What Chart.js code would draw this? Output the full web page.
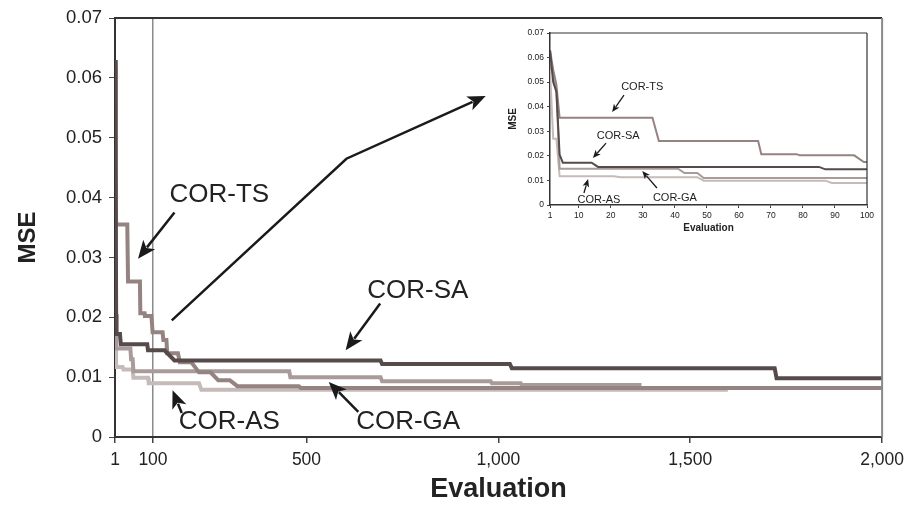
<!DOCTYPE html>
<html>
<head>
<meta charset="utf-8">
<title>MSE vs Evaluation</title>
<script src="https://cdn.jsdelivr.net/npm/chart.js@4.4.1/dist/chart.umd.min.js"></script>
<style>
	body { margin: 0; background: #fff; }
	#wrap { position: relative; width: 911px; height: 507px; }
	#main { position: absolute; left: 0; top: 0; }
	#inset { position: absolute; left: 495px; top: 24px; }
</style>
</head>
<body>
<div id="wrap">
	<canvas id="main" width="911" height="507"></canvas>
	<canvas id="inset" width="392" height="214"></canvas>
</div>
<script>
	'use strict';

	// Tick labels
	var mainTicksX = [ 1, 100, 500, 1000, 1500, 2000 ];
	var insetTicksX = [ 1, 10, 20, 30, 40, 50, 60, 70, 80, 90, 100 ];
	var ticksY = [ 0, 0.01, 0.02, 0.03, 0.04, 0.05, 0.06, 0.07 ];

	// Series: [evaluation, MSE] vertices
	var seriesNames = [ 'COR-SA', 'COR-TS', 'COR-GA', 'COR-AS' ];

	var corSA = [
		[1, 0.063], [2, 0.05], [3, 0.046], [4, 0.0205], [5, 0.0172], [14, 0.0172], [16, 0.0155],
		[85, 0.0155], [87, 0.0145], [130, 0.0145], [156, 0.0128], [693, 0.0128], [697, 0.0122],
		[1030, 0.0122], [1035, 0.0115], [1720, 0.0115], [1725, 0.0098], [2000, 0.0098]
	];
	var corTS = [
		[1, 0.063], [2, 0.055], [3, 0.049], [4, 0.0355], [33, 0.0355], [35, 0.026], [66, 0.026],
		[67, 0.0207], [78, 0.0207], [79, 0.0202], [96, 0.0202], [99, 0.0175], [125, 0.0175],
		[127, 0.0162], [135, 0.0162], [137, 0.014], [165, 0.014], [170, 0.0125], [200, 0.0125],
		[220, 0.0108], [250, 0.0108], [270, 0.0095], [300, 0.0095], [320, 0.0085], [480, 0.0085],
		[485, 0.0082], [2000, 0.0082]
	];
	var corGA = [
		[1, 0.062], [2, 0.052], [3, 0.047], [4, 0.0148], [41, 0.0148], [43, 0.013], [47, 0.013],
		[49, 0.011], [455, 0.011], [458, 0.01], [693, 0.01], [697, 0.0093], [980, 0.0093],
		[983, 0.009], [1058, 0.009], [1061, 0.0087], [1373, 0.0087]
	];
	var corAS = [
		[1, 0.055], [2, 0.027], [3, 0.027], [4, 0.0117], [21, 0.0117], [23, 0.0113], [47, 0.0113],
		[49, 0.0099], [87, 0.0099], [89, 0.009], [220, 0.009], [226, 0.0079], [1598, 0.0079]
	];

	var seriesData = [ corSA, corTS, corGA, corAS ];
	var seriesColors = [ '#564a4a', '#958382', '#a89b99', '#c5bbb8' ];

	// Callouts, in data units
	var mainNotes = [
		{ text: 'COR-TS', x: 273, y: 0.0405 },
		{ text: 'COR-SA', x: 790, y: 0.0245 },
		{ text: 'COR-AS', x: 299, y: 0.0025 },
		{ text: 'COR-GA', x: 765, y: 0.0025 }
	];
	var mainArrows = [
		[ [156, 0.0375], [61, 0.0298] ],
		[ [692, 0.0223], [602, 0.0145] ],
		[ [175, 0.004], [151, 0.0078] ],
		[ [635, 0.0042], [558, 0.0092] ],
		[ [149, 0.0195], [604, 0.0465], [967, 0.057] ]
	];
	var insetNotes = [
		{ text: 'COR-TS', x: 29.8, y: 0.048 },
		{ text: 'COR-SA', x: 22.3, y: 0.028 },
		{ text: 'COR-AS', x: 16.3, y: 0.002 },
		{ text: 'COR-GA', x: 40, y: 0.0028 }
	];
	var insetArrows = [
		[ [24.1, 0.0447], [20.4, 0.0378] ],
		[ [18.5, 0.0252], [14.4, 0.0191] ],
		[ [11.6, 0.0049], [12.9, 0.0106] ],
		[ [34.4, 0.0069], [29.8, 0.0138] ]
	];

	var FONT = '"Liberation Sans", Arial, sans-serif';

	function toPoints( list ) {
		return list.map( function( p ) { return { x: p[0], y: p[1] }; } );
	}

	function drawArrow( ctx, pts, head, width ) {
		var n = pts.length;
		var tip = pts[n - 1], prev = pts[n - 2];
		var ang = Math.atan2( tip[1] - prev[1], tip[0] - prev[0] );
		var bx = tip[0] - Math.cos( ang ) * head * 0.8;
		var by = tip[1] - Math.sin( ang ) * head * 0.8;

		ctx.beginPath();
		ctx.moveTo( pts[0][0], pts[0][1] );
		for ( var i = 1; i < n - 1; i++ ) {
			ctx.lineTo( pts[i][0], pts[i][1] );
		}
		ctx.lineTo( bx, by );
		ctx.lineWidth = width;
		ctx.strokeStyle = '#1a1a1a';
		ctx.stroke();

		var hw = head * 0.42;
		ctx.beginPath();
		ctx.moveTo( tip[0], tip[1] );
		ctx.lineTo( tip[0] - Math.cos( ang ) * head + Math.sin( ang ) * hw, tip[1] - Math.sin( ang ) * head - Math.cos( ang ) * hw );
		ctx.lineTo( tip[0] - Math.cos( ang ) * head * 0.75, tip[1] - Math.sin( ang ) * head * 0.75 );
		ctx.lineTo( tip[0] - Math.cos( ang ) * head - Math.sin( ang ) * hw, tip[1] - Math.sin( ang ) * head + Math.cos( ang ) * hw );
		ctx.closePath();
		ctx.fillStyle = '#1a1a1a';
		ctx.fill();
	}

	// Frame, axis titles and callouts
	var decor = {
		id: 'decor',
		afterDatasetsDraw: function( chart, args, o ) {
			var ctx = chart.ctx;
			var a = chart.chartArea;
			var xs = chart.scales.x, ys = chart.scales.y;

			ctx.save();
			// top and right edges of the plot box
			ctx.lineWidth = o.frameWidth;
			ctx.strokeStyle = o.topColor;
			ctx.beginPath();
			ctx.moveTo( a.left - 1, a.top );
			ctx.lineTo( a.right, a.top );
			ctx.stroke();
			ctx.strokeStyle = o.rightColor;
			ctx.beginPath();
			ctx.moveTo( a.right, a.top );
			ctx.lineTo( a.right, a.bottom );
			ctx.stroke();

			// arrows
			o.arrows.forEach( function( arr ) {
				var pts = arr.map( function( p ) {
					return [ xs.getPixelForValue( p[0] ), ys.getPixelForValue( p[1] ) ];
				} );
				drawArrow( ctx, pts, o.head, o.arrowWidth );
			} );

			// callout labels
			ctx.fillStyle = '#222';
			ctx.font = o.noteSize + 'px ' + FONT;
			ctx.textAlign = 'center';
			ctx.textBaseline = 'middle';
			o.notes.forEach( function( n ) {
				ctx.fillText( n.text, xs.getPixelForValue( n.x ), ys.getPixelForValue( n.y ) );
			} );

			// axis titles
			ctx.font = 'bold ' + o.xTitleSize + 'px ' + FONT;
			ctx.fillText( 'Evaluation', ( a.left + a.right ) / 2, a.bottom + o.xTitleGap );
			ctx.translate( o.yTitleX, ( a.top + a.bottom ) / 2 + o.yTitleShift );
			ctx.rotate( -Math.PI / 2 );
			ctx.font = 'bold ' + o.yTitleSize + 'px ' + FONT;
			ctx.fillText( 'MSE', 0, 0 );
			ctx.restore();
		}
	};

	function buildChart( id, cfg ) {
		return new Chart( document.getElementById( id ), {
			type: 'line',
			data: {
				datasets: seriesNames.map( function( name, i ) {
					return {
						label: name,
						data: toPoints( seriesData[i] ),
						borderColor: seriesColors[i],
						borderWidth: cfg.lineWidth,
						pointRadius: 0,
						tension: 0,
						fill: false
					};
				} )
			},
			options: {
				responsive: false,
				animation: false,
				devicePixelRatio: 1,
				layout: { padding: cfg.padding },
				plugins: {
					legend: { display: false },
					tooltip: { enabled: false },
					decor: cfg.decor
				},
				scales: {
					x: {
						type: 'linear',
						min: 1,
						max: cfg.xMax,
						afterBuildTicks: function( s ) {
							s.ticks = cfg.xTicks.map( function( v ) { return { value: v }; } );
						},
						afterFit: function( s ) { s.height = cfg.xHeight; },
						ticks: {
							autoSkip: false,
							maxRotation: 0,
							padding: cfg.tickPad,
							color: '#222',
							font: { family: FONT, size: cfg.tickSize },
							callback: function( v ) { return v.toLocaleString( 'en-US' ); }
						},
						grid: {
							color: function( c ) {
								return ( cfg.markX && c.tick && c.tick.value === cfg.markX ) ? '#8a8a8a' : 'rgba(0,0,0,0)';
							},
							lineWidth: cfg.markWidth,
							tickColor: '#444',
							tickLength: cfg.tickLen
						},
						border: { color: '#333', width: cfg.axisWidth }
					},
					y: {
						min: 0,
						max: 0.07,
						afterBuildTicks: function( s ) {
							s.ticks = ticksY.map( function( v ) { return { value: v }; } );
						},
						afterFit: function( s ) { s.width = cfg.yWidth; },
						ticks: {
							padding: cfg.tickPad,
							color: '#222',
							font: { family: FONT, size: cfg.yTickSize },
							callback: function( v ) { return v === 0 ? '0' : v.toFixed( 2 ); }
						},
						grid: {
							drawOnChartArea: false,
							tickColor: '#444',
							tickLength: cfg.tickLen
						},
						border: { color: '#333', width: cfg.axisWidth }
					}
				}
			},
			plugins: [ decor ]
		} );
	}

	buildChart( 'main', {
		lineWidth: 4,
		padding: { top: 17, right: 24, left: 0, bottom: 0 },
		xMax: 2000,
		xTicks: mainTicksX,
		xHeight: 70,
		yWidth: 115,
		tickSize: 17.5,
		yTickSize: 18.5,
		tickPad: 7,
		tickLen: 6,
		markX: 100,
		markWidth: 1.5,
		axisWidth: 2,
		decor: {
			frameWidth: 2, topColor: '#333', rightColor: '#8a8a8a',
			notes: mainNotes, arrows: mainArrows, noteSize: 26, head: 18, arrowWidth: 2.5,
			xTitleSize: 27, xTitleGap: 53, yTitleX: 28, yTitleShift: 10, yTitleSize: 24
		}
	} );

	buildChart( 'inset', {
		lineWidth: 2,
		padding: { top: 9, right: 20, left: 0, bottom: 0 },
		xMax: 100,
		xTicks: insetTicksX,
		xHeight: 33,
		yWidth: 55,
		tickSize: 8.5,
		yTickSize: 8.5,
		tickPad: 3,
		tickLen: 3,
		markX: null,
		markWidth: 1,
		axisWidth: 1.5,
		decor: {
			frameWidth: 1.2, topColor: '#333', rightColor: '#333',
			notes: insetNotes, arrows: insetArrows, noteSize: 11, head: 8, arrowWidth: 1.3,
			xTitleSize: 10, xTitleGap: 23, yTitleX: 18, yTitleShift: 0, yTitleSize: 10
		}
	} );
</script>
</body>
</html>
